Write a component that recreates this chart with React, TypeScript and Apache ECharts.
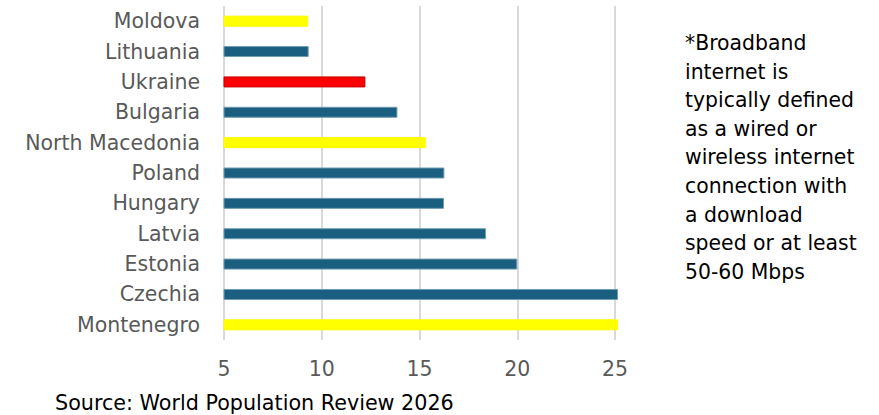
import React, { useEffect, useRef } from "react";
import * as echarts from "echarts";

const countries = ["Montenegro", "Czechia", "Estonia", "Latvia", "Hungary", "Poland", "North Macedonia", "Bulgaria", "Ukraine", "Lithuania", "Moldova"];
const speeds = [25.15, 25.15, 20.0, 18.4, 16.25, 16.27, 15.32, 13.87, 12.23, 9.33, 9.3];
const barColors = ["#ffff00", "#1a5f80", "#1a5f80", "#1a5f80", "#1a5f80", "#1a5f80", "#ffff00", "#1a5f80", "#ff0000", "#1a5f80", "#ffff00"];
const borderColors = ["#ffff00", "#6f9bb3", "#6f9bb3", "#6f9bb3", "#6f9bb3", "#6f9bb3", "#ffff00", "#6f9bb3", "#c00000", "#6f9bb3", "#ffff00"];
const xTicks = [5, 10, 15, 20, 25];
const noteLines = ["*Broadband", "internet is", "typically defined", "as a wired or", "wireless internet", "connection with", "a download", "speed or at least", "50-60 Mbps"];
const sourceText = "Source: World Population Review 2026";

const FONT = "'DejaVu Sans', sans-serif";

export default function App() {
  const ref = useRef<HTMLDivElement>(null);
  useEffect(() => {
    if (!ref.current) return;
    const chart = echarts.init(ref.current, undefined, { renderer: "svg" });
    chart.setOption({
      animation: false,
      backgroundColor: "#ffffff",
      grid: { left: 224, right: 260, top: 6, bottom: 75, containLabel: false },
      xAxis: {
        type: "value",
        min: xTicks[0],
        max: 25.2,
        interval: 5,
        axisLine: { show: false },
        axisTick: { show: false },
        splitLine: { show: true, showMaxLine: false, lineStyle: { color: "#d9d9d9", width: 2 } },
        axisLabel: {
          color: "#595959", fontSize: 20.5, fontFamily: FONT, margin: 18, showMaxLabel: false,
          formatter: (v: number) => (xTicks.includes(v) ? String(v) : ""),
        },
      },
      yAxis: {
        type: "category",
        data: countries,
        axisLine: { show: false },
        axisTick: { show: false },
        splitLine: { show: false },
        axisLabel: { color: "#595959", fontSize: 20.5, fontFamily: FONT, margin: 24 },
      },
      series: [
        {
          type: "bar",
          barWidth: 11,
          data: speeds.map((v, i) => ({
            value: v,
            itemStyle: { color: barColors[i], borderColor: borderColors[i], borderWidth: 1 },
          })),
        },
      ],
      graphic: [
        ...noteLines.map((t, i) => ({
          type: "text",
          left: 685,
          top: 33 + i * 28.6,
          style: { text: t, fill: "#000000", fontSize: 20.4, fontFamily: FONT },
        })),
        {
          type: "text",
          left: 55,
          top: 392,
          style: { text: sourceText, fill: "#000000", fontSize: 20.7, fontFamily: FONT },
        },
      ],
    });
    return () => chart.dispose();
  }, []);
  return <div ref={ref} style={{ width: 879, height: 415, position: "absolute", left: 0, top: 0 }} />;
}
